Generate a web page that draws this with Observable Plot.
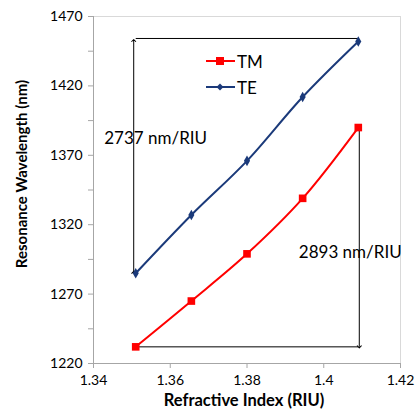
<!DOCTYPE html>
<html>
<head>
<meta charset="utf-8">
<script src="https://cdn.jsdelivr.net/npm/d3@7"></script>
<script src="https://cdn.jsdelivr.net/npm/@observablehq/plot@0.6"></script>
<style>
  body { margin: 0; background: #fff; font-family: Lato, "Open Sans", sans-serif; }
  #wrap { position: relative; width: 415px; height: 416px; }
  .legend { position: absolute; left: 206px; top: 48px; font-size: 17px; color: #000; }
  .legend .row { display: flex; align-items: center; height: 26px; }
  .legend svg { margin-right: 2px; }
</style>
</head>
<body>
<div id="wrap"></div>
<script>
// Refractive index of the analyte and the resonance wavelength of each mode
const refractiveIndex = [1.351, 1.3655, 1.380, 1.3945, 1.409];
const tmWavelength = [1232, 1265, 1299, 1339, 1390];
const teWavelength = [1285, 1327, 1366, 1412, 1452];
const modeNames = ["TM", "TE"];
const modeColors = ["#ff0000", "#1b3a7a"];
const yTicks = [1220, 1270, 1320, 1370, 1420, 1470];
const yMinorTicks = [1245, 1295, 1345, 1395, 1445];
const xTicks = [1.34, 1.36, 1.38, 1.40, 1.42];
const sensitivityLabels = ["2737 nm/RIU", "2893 nm/RIU"];

const tm = refractiveIndex.map((n, i) => ({n, w: tmWavelength[i]}));
const te = refractiveIndex.map((n, i) => ({n, w: teWavelength[i]}));
const last = refractiveIndex.length - 1;

// Sensitivity guides: span of each mode across the index range
const teSpan = [{x1: refractiveIndex[0], y1: teWavelength[0], x2: refractiveIndex[0], y2: teWavelength[last]}];
const teTop = [{x1: refractiveIndex[0], y1: teWavelength[last], x2: refractiveIndex[last], y2: teWavelength[last]}];
const tmSpan = [{x1: refractiveIndex[last], y1: tmWavelength[last], x2: refractiveIndex[last], y2: tmWavelength[0]}];
const tmBottom = [{x1: refractiveIndex[0], y1: tmWavelength[0], x2: refractiveIndex[last], y2: tmWavelength[0]}];
const labelPos = [
  {x: 1.3428, y: 1382, text: sensitivityLabels[0]},
  {x: 1.3935, y: 1300, text: sensitivityLabels[1]}
];

const fmtX = d => String(+d.toFixed(2));
const fmtY = d => String(d);

const chart = Plot.plot({
  width: 415,
  height: 416,
  marginLeft: 93,
  marginRight: 15,
  marginTop: 16,
  marginBottom: 53,
  style: {fontFamily: "Lato, 'Open Sans', sans-serif", fontSize: "14px", color: "#000", background: "#fff"},
  x: {domain: [1.34, 1.42]},
  y: {domain: [1220, 1470]},
  marks: [
    Plot.frame({stroke: "#d9d9d9"}),
    Plot.axisY({ticks: yTicks, tickSize: 5, tickPadding: 6, tickFormat: fmtY, label: null, stroke: "#a6a6a6", fontSize: 14}),
    Plot.axisY({ticks: yMinorTicks, tickSize: 5, text: null, label: null, stroke: "#a6a6a6"}),
    Plot.axisX({ticks: xTicks, tickSize: 5, tickPadding: 7, tickFormat: fmtX, label: null, stroke: "#a6a6a6", fontSize: 14}),
    Plot.ruleX([1.34], {stroke: "#a6a6a6"}),
    Plot.ruleY([1220], {stroke: "#a6a6a6"}),
    // guides
    Plot.link(teSpan, {x1: "x1", y1: "y1", x2: "x2", y2: "y2", stroke: "#000", strokeWidth: 1, dx: -2, dy: -1, markerStart: "arrow", markerEnd: "arrow"}),
    Plot.link(teTop, {x1: "x1", y1: "y1", x2: "x2", y2: "y2", stroke: "#000", strokeWidth: 1, dy: -3}),
    Plot.link(tmSpan, {x1: "x1", y1: "y1", x2: "x2", y2: "y2", stroke: "#000", strokeWidth: 1, dx: 1, markerStart: "arrow", markerEnd: "arrow"}),
    Plot.link(tmBottom, {x1: "x1", y1: "y1", x2: "x2", y2: "y2", stroke: "#000", strokeWidth: 1}),
    Plot.text(labelPos, {x: "x", y: "y", text: "text", textAnchor: "start", fontSize: 17, fill: "#000"}),
    // series
    Plot.line(tm, {x: "n", y: "w", stroke: modeColors[0], strokeWidth: 2, curve: "catmull-rom"}),
    Plot.dot(tm, {x: "n", y: "w", symbol: "square", r: 4.3, fill: modeColors[0], stroke: "none"}),
    Plot.line(te, {x: "n", y: "w", stroke: modeColors[1], strokeWidth: 2, curve: "catmull-rom"}),
    Plot.dot(te, {x: "n", y: "w", symbol: "diamond", r: 3.2, fill: modeColors[1], stroke: "none"}),
    // axis titles
    Plot.text(["Resonance Wavelength (nm)"], {frameAnchor: "left", textAnchor: "middle", dx: -71, dy: -16, rotate: -90, fontSize: 15, fontWeight: "bold", fill: "#000"}),
    Plot.text(["Refractive Index (RIU)"], {frameAnchor: "bottom", textAnchor: "middle", dx: -3, dy: 42, fontSize: 16.5, fontWeight: "bold", fill: "#000"})
  ]
});

const wrap = document.getElementById("wrap");
wrap.appendChild(chart);

// Legend placed inside the plot area
const legend = document.createElement("div");
legend.className = "legend";
modeNames.forEach((name, i) => {
  const row = document.createElement("div");
  row.className = "row";
  const marker = i === 0
    ? `<rect x="10" y="6" width="8" height="8" fill="${modeColors[i]}"/>`
    : `<path d="M14,6.5L17.5,10L14,13.5L10.5,10Z" fill="${modeColors[i]}"/>`;
  row.innerHTML = `<svg width="29" height="20"><line x1="0" x2="29" y1="10" y2="10" stroke="${modeColors[i]}" stroke-width="2"/>${marker}</svg><span>${name}</span>`;
  legend.appendChild(row);
});
wrap.appendChild(legend);
</script>
</body>
</html>
